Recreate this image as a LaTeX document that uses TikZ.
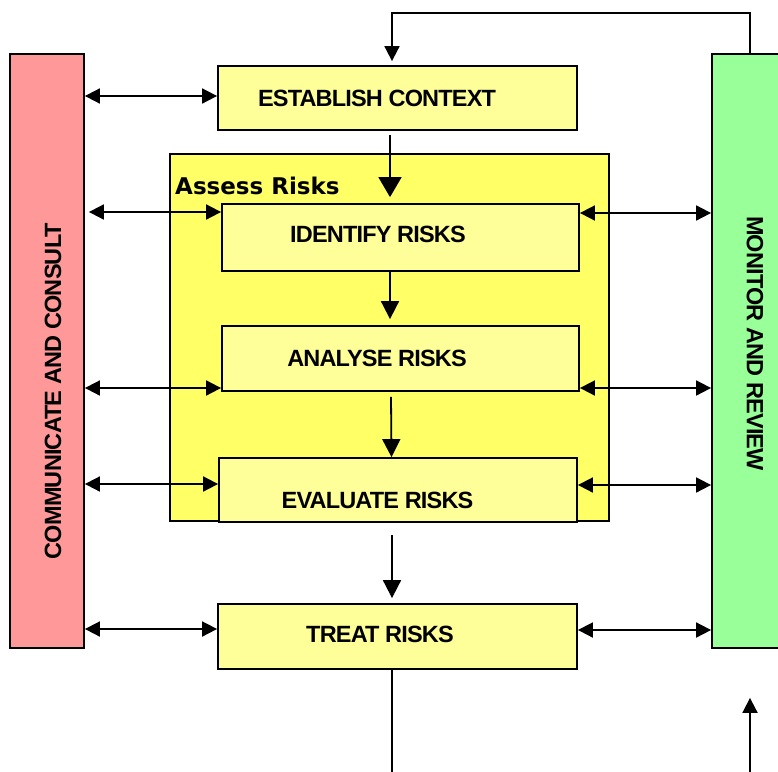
\documentclass[tikz,border=0pt]{standalone}
\usepackage{fontspec}
\setmainfont{Liberation Sans}[LetterSpace=-3.5]
\newfontfamily\assessfont{DejaVu Sans}
\usetikzlibrary{arrows.meta}
\definecolor{ccred}{HTML}{FF9999}
\definecolor{mrgreen}{HTML}{99FF99}
\definecolor{boxyellow}{HTML}{FFFF99}
\definecolor{assessyellow}{HTML}{FFFF66}
\begin{document}
\begin{tikzpicture}[x=1pt,y=-1pt,
  bar/.style={draw, line width=1.8pt, inner sep=0pt},
  stepbox/.style={draw, line width=1.8pt, fill=boxyellow, inner sep=0pt},
  lbl/.style={inner sep=0pt, font=\bfseries\fontsize{23.5}{27}\selectfont},
  arr/.style={line width=1.8pt, -{Triangle[length=15pt,width=15pt]}},
  bigarr/.style={line width=1.8pt, -{Triangle[length=20pt,width=23pt]}},
  midarr/.style={line width=1.8pt, -{Triangle[length=18pt,width=18pt]}},
  dbl/.style={line width=1.8pt, {Triangle[length=15pt,width=15pt]}-{Triangle[length=15pt,width=15pt]}},
  plain/.style={line width=1.8pt}]
\useasboundingbox (0,0) rectangle (778,771);
\clip (0,0) rectangle (778,771);

% side bars
\node[bar, fill=ccred, minimum width=74pt, minimum height=594pt] (cc) at (47,351) {};
\node[bar, fill=mrgreen, minimum width=78pt, minimum height=594pt] (mr) at (751,351) {};
\node[lbl, rotate=90] (cc-label) at (53,391) {COMMUNICATE AND CONSULT};
\node[lbl, rotate=-90] (mr-label) at (755,343.5) {MONITOR AND REVIEW};

% assess risks container
\node[draw, line width=1.8pt, fill=assessyellow, inner sep=0pt, minimum width=439pt, minimum height=367pt] (assess) at (389.5,337.5) {};
\node[inner sep=0pt, anchor=base west, font=\assessfont\bfseries\fontsize{23}{27}\selectfont] (assess-label) at (175,194) {Assess Risks};

% process boxes
\node[stepbox, minimum width=359pt, minimum height=64pt] (est) at (397.5,98) {};
\node[stepbox, minimum width=357pt, minimum height=67pt] (id) at (400.5,237.5) {};
\node[stepbox, minimum width=357pt, minimum height=65pt] (an) at (400.5,358.5) {};
\node[stepbox, minimum width=358pt, minimum height=64pt] (ev) at (398,490) {};
\node[stepbox, minimum width=359pt, minimum height=65pt] (tr) at (397.5,636.5) {};

\node[lbl] (est-label) at (377,98) {ESTABLISH CONTEXT};
\node[lbl] (id-label) at (378,234) {IDENTIFY RISKS};
\node[lbl] (an-label) at (377,358) {ANALYSE RISKS};
\node[lbl] (ev-label) at (377.5,500) {EVALUATE RISKS};
\node[lbl] (tr-label) at (380,634.5) {TREAT RISKS};

% arrow anchor points on the boxes
\path ([yshift=2pt]est.west) coordinate (estL)
      ([yshift=25.5pt]id.west) coordinate (idL)
      ([yshift=24.5pt]id.east) coordinate (idR)
      ([yshift=-29.5pt]an.west) coordinate (anL)
      ([yshift=-29.5pt]an.east) coordinate (anR)
      ([yshift=6pt]ev.west) coordinate (evL)
      ([yshift=5pt]ev.east) coordinate (evR)
      ([yshift=7.5pt]tr.west) coordinate (trL)
      ([yshift=6.5pt]tr.east) coordinate (trR);

% communicate and consult links
\draw[dbl] (cc.east |- estL) -- (estL);
\draw[dbl, shorten <=4pt] (cc.east |- idL) -- (idL);
\draw[dbl] (cc.east |- anL) -- (anL);
\draw[dbl] (cc.east |- evL) -- (evL);
\draw[dbl] (cc.east |- trL) -- (trL);

% monitor and review links
\draw[dbl] (idR) -- (idR -| mr.west);
\draw[dbl] (anR) -- (anR -| mr.west);
\draw[dbl] (evR) -- (evR -| mr.west);
\draw[dbl] (trR) -- (trR -| mr.west);

% main flow
\draw[arr] ([xshift=-1pt]mr.north) -- ++(0,-40) -| ([xshift=-5.5pt,yshift=4pt]est.north);
\draw[bigarr] ([xshift=-7.5pt,yshift=-4pt]est.south) -- ([xshift=-10.5pt,yshift=6pt]id.north);
\draw[midarr] ([xshift=-10.5pt]id.south) -- ([xshift=-10.5pt,yshift=6pt]an.north);
\draw[midarr] ([xshift=-9.5pt,yshift=-5pt]an.south) -- ([xshift=-6.5pt]ev.north);
\draw[midarr] ([xshift=-6pt,yshift=-12pt]ev.south) -- ([xshift=-5.5pt,yshift=5pt]tr.north);
\coordinate (out) at (392,780);
\draw[plain] ([xshift=-5.5pt]tr.south) -- (out);
\coordinate (in) at (750,780);
\draw[arr] (in) -- ([xshift=-1pt,yshift=-49pt]mr.south);
\end{tikzpicture}
\end{document}
